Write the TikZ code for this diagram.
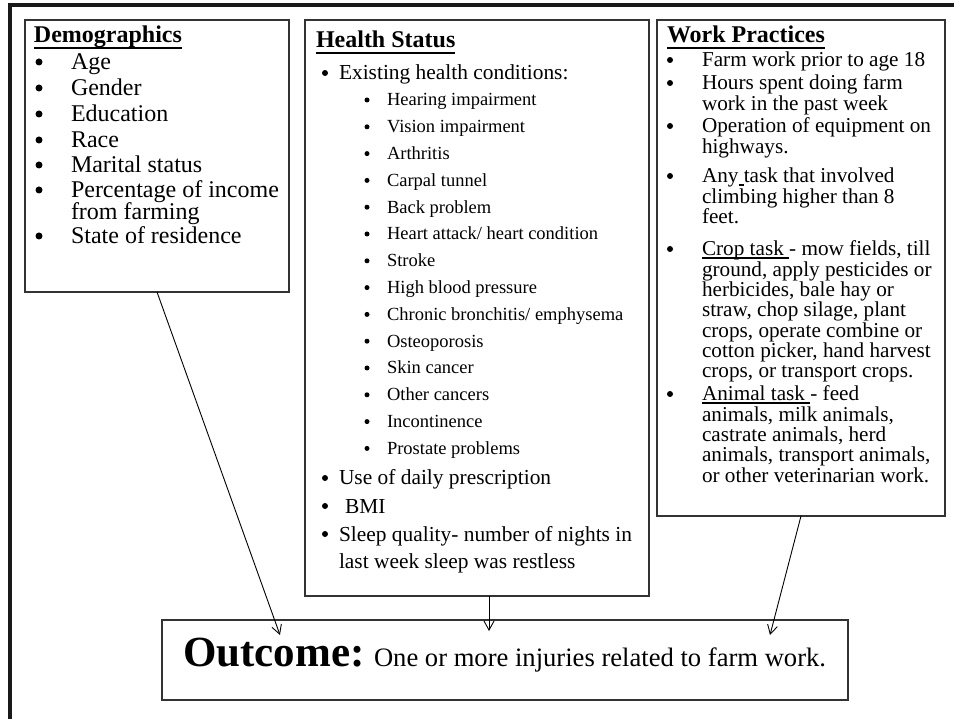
\documentclass[tikz,border=0pt]{standalone}
\usepackage{fontspec}
\setmainfont{Liberation Serif}
\usetikzlibrary{arrows.meta}

% font sizes for the three lists and the outcome line
\newcommand{\fsHead}{\fontsize{24}{24}\selectfont\bfseries}
\newcommand{\fsDem}{\fontsize{24}{24}\selectfont}
\newcommand{\fsHsMain}{\fontsize{21.4}{21.4}\selectfont}
\newcommand{\fsHsSub}{\fontsize{18.5}{18.5}\selectfont}
\newcommand{\fsWork}{\fontsize{21.2}{21.2}\selectfont}

% underlines at a fixed depth below the baseline
\newcommand{\headul}[1]{\setbox0\hbox{#1}\rlap{\rule[-0.24em]{\wd0}{0.08em}}\box0}
\newcommand{\textul}[1]{\setbox0\hbox{#1}\rlap{\rule[-0.13em]{\wd0}{0.06em}}\box0}

\tikzset{
  panel/.style={draw=black!80, line width=1.3pt, anchor=north west,
                inner sep=0pt, outer sep=0pt},
  txt/.style={anchor=base west, inner sep=0pt, outer sep=0pt},
  dot/.style={circle, fill=black, draw=none, inner sep=0pt, minimum size=#1},
  dot/.default=6pt,
  arr/.style={draw=black, line width=0.9pt,
              -{Straight Barb[length=9pt,width=10pt]}},
}

\begin{document}
\begin{tikzpicture}[x=1pt,y=-1pt]
\useasboundingbox (0,0) rectangle (954,719);
\fill[white] (0,0) rectangle (954,719);

% outer frame (top and left edges only)
\draw[line width=3.5pt, black!90] (10,719) -- (10,5) -- (954,5);

% panels
\node[panel, minimum width=264pt, minimum height=272pt] (dem) at (25,20) {};
\node[panel, minimum width=344pt, minimum height=576pt] (hs) at (305,20) {};
\node[panel, minimum width=288pt, minimum height=496pt] (wp) at (657,20) {};
\node[panel, minimum width=686pt, minimum height=80pt] (out) at (162,620) {};

% Demographics
\node[txt, font=\fsHead] (dem-h) at (34,43) {\headul{Demographics}};
\foreach \ya/\lab [count=\i] in {70/Age, 96/Gender, 122/Education, 148/Race,
    173/Marital status, 198/Percentage of income, 220/from farming,
    244/State of residence}
  \node[txt, font=\fsDem] (dem-l\i) at (71,\ya) {\lab};
\foreach \ya [count=\i] in {70,96,122,148,173,198,244}
  \node[dot=7pt] (dem-b\i) at (39,\ya-8) {};

% Health Status
\node[txt, font=\fsHead] (hs-h) at (316,48) {\headul{Health Status}};
\node[txt, font=\fsHsMain] (hs-m1) at (339,80) {Existing health conditions:};
\node[txt, font=\fsHsMain] (hs-m2) at (339,485) {Use of daily prescription};
\node[txt, font=\fsHsMain] (hs-m3) at (345,513) {BMI};
\node[txt, font=\fsHsMain] (hs-m4) at (339,541) {Sleep quality- number of nights in};
\node[txt, font=\fsHsMain] (hs-m5) at (339,568) {last week sleep was restless};
\foreach \ya [count=\i] in {80,485,513,541}
  \node[dot=6pt] (hs-b\i) at (325,\ya-7) {};
\foreach \lab [count=\i] in {Hearing impairment, Vision impairment, Arthritis,
    Carpal tunnel, Back problem, Heart attack/ heart condition, Stroke,
    High blood pressure, Chronic bronchitis/ emphysema, Osteoporosis,
    Skin cancer, Other cancers, Incontinence, Prostate problems}
{
  \node[txt, font=\fsHsSub] (hs-s\i) at (387,{106+26.8*(\i-1)}) {\lab};
  \node[dot=5pt] (hs-sb\i) at (367,{100+26.8*(\i-1)}) {};
}

% Work Practices
\node[txt, font=\fsHead] (wp-h) at (667,43) {\headul{Work Practices}};
\foreach \ya/\lab [count=\i] in {
    67/Farm work prior to age 18,
    90/Hours spent doing farm,
    111/work in the past week,
    133/Operation of equipment on,
    153.5/highways.,
    183/Any\textul{\ }task that involved,
    203.5/climbing higher than 8,
    224/feet.,
    256/{\textul{Crop task\ }- mow fields, till},
    276.3/{ground, apply pesticides or},
    296.6/{herbicides, bale hay or},
    316.9/{straw, chop silage, plant},
    337.2/{crops, operate combine or},
    357.5/{cotton picker, hand harvest},
    377.8/{crops, or transport crops.},
    401/{\textul{Animal task\ }- feed},
    421.3/{animals, milk animals,},
    441.6/{castrate animals, herd},
    461.9/{animals, transport animals,},
    482.2/{or other veterinarian work.}}
  \node[txt, font=\fsWork] (wp-l\i) at (702,\ya) {\lab};
\foreach \ya [count=\i] in {67,90,133,183,256,401}
  \node[dot=6pt] (wp-b\i) at (670,\ya-7) {};

% Outcome
\node[txt, font=\fontsize{43}{43}\selectfont\bfseries] (out-h) at (183,666) {Outcome:};
\node[txt, font=\fontsize{26.6}{26.6}\selectfont] (out-t) at (374,666)
  {One or more injuries related to farm work.};

% connectors into the outcome panel
\coordinate (tipA) at (280,635);
\coordinate (tipB) at (489,631);
\coordinate (tipC) at (770,635);
\draw[arr] (dem.south) -- (tipA);
\draw[arr] (hs.south -| tipB) -- (tipB);
\draw[arr] (wp.south) -- (tipC);
\end{tikzpicture}
\end{document}
